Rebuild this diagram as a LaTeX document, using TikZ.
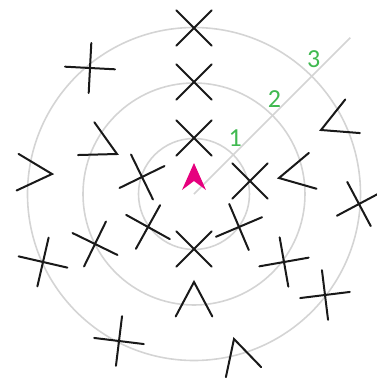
\documentclass[tikz,border=0pt]{standalone}
\usepackage{fontspec}
\setmainfont{Carlito}
\definecolor{ringgray}{RGB}{212,212,212}
\definecolor{robotpink}{RGB}{230,0,126}
\definecolor{lblgreen}{RGB}{64,185,80}
\begin{document}
\begin{tikzpicture}[x=1pt, y=1pt,
	ring/.style={draw=ringgray, line width=1.6pt},
	featline/.style={draw=black!90, line width=2pt, line cap=round},
	lbl/.style={text=lblgreen, font=\fontsize{26}{26}\selectfont, inner sep=0pt, anchor=south, xshift=2pt, yshift=8pt},
	landmark/.pic={\draw[featline] (-25,0) -- (25,0) (0,-25) -- (0,25);},
	wedge/.pic={\draw[featline] (152:39) -- (0,0) -- (208:39);}]
	\useasboundingbox (-194,-184) rectangle (183,194);
	\coordinate (robot) at (0,0);
	\coordinate (rayend) at (45:221);
	% Range rings and the ray:
	\foreach \r in {55.5, 111, 166.5}
		\draw[ring] (robot) circle (\r);
	\draw[ring] (robot) -- (rayend);
	% Landmarks (crosses):
	\foreach \x/\y/\a in {0/166/45, 0/112/45, 0/56/45, 0/-55/45,
		-104/126/-3, -52/17/26, 56/13/45, 165/-10/28, -46/-33/-29,
		45/-33/23, -99/-50/-26, -151/-68/-13, 90/-68/10, 131/-101/7,
		-75/-147/-7}
		\pic[rotate=\a] at (\x,\y) {landmark};
	% Landmarks (wedges), tip first:
	\foreach \x/\y/\a in {-77/40/-26.5, -142/20/-3, 85/16/192,
		127/64/203.5, 0/-88/90, 40/-145/106}
		\pic[rotate=\a] at (\x,\y) {wedge};
	% Ring labels:
	\foreach \r/\n in {55.5/1, 111/2, 166.5/3}
		\node[lbl] (lbl\n) at (45:\r) {\n};
	% Robot:
	\fill[robotpink] (0,31) -- (12,4) -- (0,13) -- (-12,4) -- cycle;
\end{tikzpicture}
\end{document}
